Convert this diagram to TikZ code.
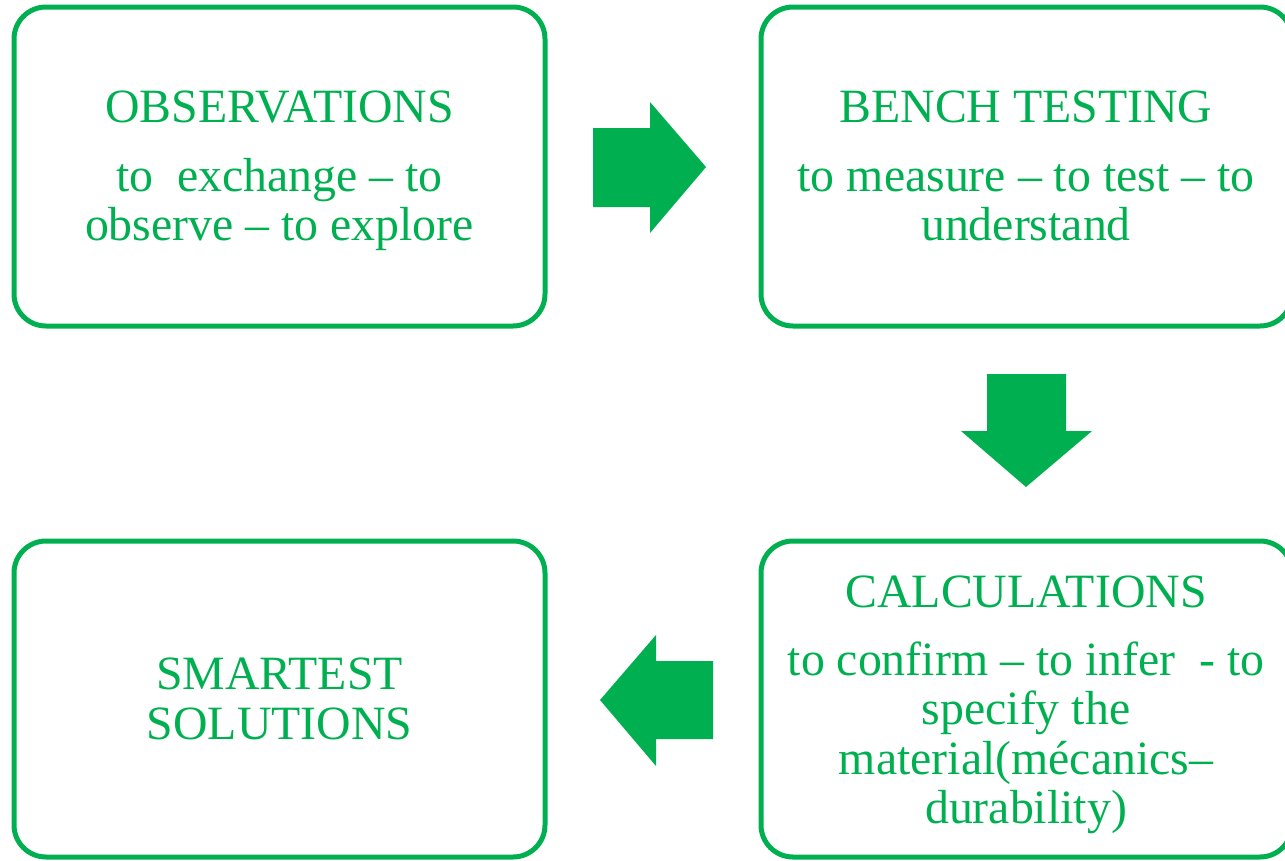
\documentclass[tikz,border=0pt]{standalone}
\usepackage{fontspec}
\setmainfont{Liberation Serif}
\definecolor{stepgreen}{RGB}{0,176,80}
\tikzset{
  stagebox/.style={draw=stepgreen, line width=5pt, rounded corners=32pt,
    inner sep=0pt, minimum width=531pt, minimum height=319pt},
  stagetext/.style={text=stepgreen, align=center, inner sep=0pt, anchor=north,
    font=\fontsize{47.8}{49.5}\selectfont},
  blockarrow/.style={fill=stepgreen}
}
\begin{document}
\begin{tikzpicture}[x=1pt,y=-1pt]
  \useasboundingbox (0,0) rectangle (1285,860);
  % the four stages
  \node[stagebox] (obs) at (279.5,166.5) {};
  \node[stagebox] (bench) at (1026.5,166.5) {};
  \node[stagebox, minimum height=316pt] (calc) at (1026.5,699) {};
  \node[stagebox, minimum height=316pt] (smart) at (279.5,699) {};
  \node[stagetext] (obstxt) at (279.5,91) {OBSERVATIONS\\[19pt]to~ exchange – to\\observe – to explore};
  \node[stagetext] (benchtxt) at (1026,91) {BENCH TESTING\\[19pt]to measure – to test – to\\understand};
  \node[stagetext] (calctxt) at (1026,576) {CALCULATIONS\\[18pt]to confirm – to infer~ - to\\specify the\\material(mécanics–\\durability)};
  \node[stagetext] (smarttxt) at (279.5,658) {SMARTEST\\SOLUTIONS};
  % block arrows between the stages
  \fill[blockarrow] (593,128) -- (650,128) -- (650,102) -- (706,167)
    -- (650,233) -- (650,207) -- (593,207) -- cycle;
  \fill[blockarrow] (987,374) -- (1066,374) -- (1066,431) -- (1092,431)
    -- (1026,487) -- (961,431) -- (987,431) -- cycle;
  \fill[blockarrow] (713,661) -- (656,661) -- (656,635) -- (600,700)
    -- (656,766) -- (656,739) -- (713,739) -- cycle;
\end{tikzpicture}
\end{document}
